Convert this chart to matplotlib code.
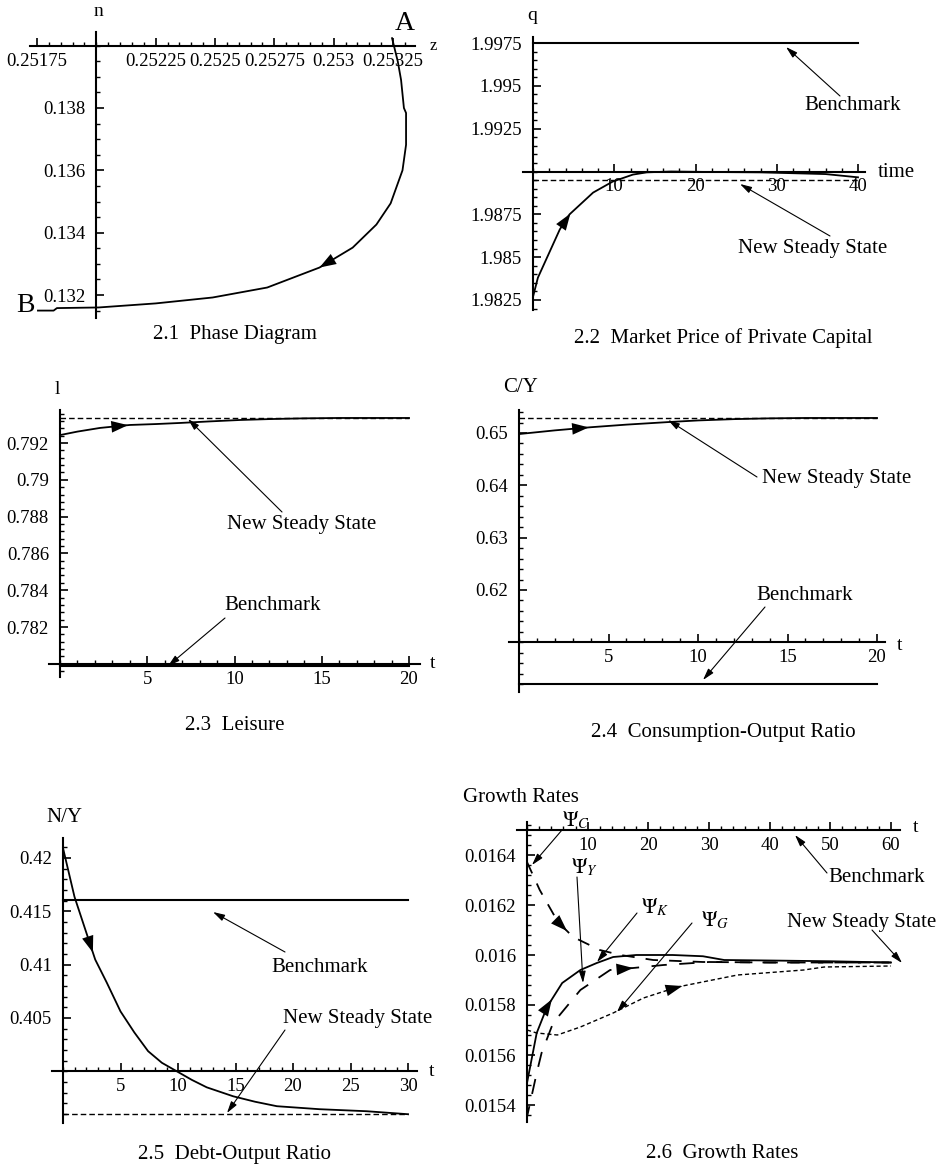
import numpy as np
import matplotlib
matplotlib.use("Agg")
import matplotlib.pyplot as plt
from matplotlib.ticker import FixedLocator, FixedFormatter, MultipleLocator

plt.rcParams['font.family'] = ['Liberation Serif', 'DejaVu Serif']
plt.rcParams['mathtext.fontset'] = 'stix'
plt.rcParams['font.size'] = 13
plt.rcParams['lines.scale_dashes'] = False

# ---------------- data ----------------
# 2.1 phase diagram (path from A to B)
phase_z = [0.253246, 0.253270, 0.253284, 0.253296, 0.253305, 0.253305, 0.25329, 0.25324,
           0.25318, 0.25308, 0.25294, 0.25272, 0.25249, 0.25225, 0.25201, 0.251834,
           0.25182, 0.251754]
phase_n = [0.14024, 0.13950, 0.13890, 0.13800, 0.13784, 0.13682, 0.13600, 0.13494,
           0.13426, 0.13352, 0.13288, 0.13224, 0.13192, 0.13173, 0.13160, 0.13158,
           0.13150, 0.13150]
phase_xticks = [0.25175, 0.25225, 0.2525, 0.25275, 0.253, 0.25325]
phase_xlabels = ["0.25175", "0.25225", "0.2525", "0.25275", "0.253", "0.25325"]
phase_yticks = [0.132, 0.134, 0.136, 0.138]
phase_ylabels = ["0.132", "0.134", "0.136", "0.138"]

# 2.2 market price of private capital
q_t = [0, 0.6, 3.3, 4.5, 7.4, 9.8, 12.3, 14, 17, 22, 28, 32, 36, 40]
q_val = [1.98268, 1.9838, 1.98662, 1.9875, 1.98877, 1.98941, 1.98982, 1.98995, 1.99000,
         1.98997, 1.98995, 1.98990, 1.98985, 1.98966]
q_bench = 1.9975
q_new = 1.98953
q_xticks = [10, 20, 30, 40]
q_xlabels = ["10", "20", "30", "40"]
q_yticks = [1.9825, 1.985, 1.9875, 1.9925, 1.995, 1.9975]
q_ylabels = ["1.9825", "1.985", "1.9875", "1.9925", "1.995", "1.9975"]

# 2.3 leisure
l_t = [0, 1, 2.3, 4, 5.5, 6.9, 8.5, 10.3, 12, 14, 16, 18, 20]
l_val = [0.79243, 0.79262, 0.79282, 0.79298, 0.79303, 0.79309, 0.79317, 0.79325,
         0.79330, 0.79334, 0.79336, 0.79336, 0.79336]
l_bench = 0.77986
l_new = 0.79336
l_xticks = [5, 10, 15, 20]
l_xlabels = ["5", "10", "15", "20"]
l_yticks = [0.782, 0.784, 0.786, 0.788, 0.79, 0.792]
l_ylabels = ["0.782", "0.784", "0.786", "0.788", "0.79", "0.792"]

# 2.4 consumption-output ratio
cy_t = [0, 2, 4, 6, 8.4, 10, 12, 14, 16, 18, 20]
cy_val = [0.6498, 0.6505, 0.6511, 0.6516, 0.6521, 0.6524, 0.65265, 0.6528, 0.65287,
          0.65287, 0.65287]
cy_bench = 0.6020
cy_new = 0.65287
cy_xticks = [5, 10, 15, 20]
cy_xlabels = ["5", "10", "15", "20"]
cy_yticks = [0.62, 0.63, 0.64, 0.65]
cy_ylabels = ["0.62", "0.63", "0.64", "0.65"]

# 2.5 debt-output ratio
ny_t = [0, 1, 2.8, 3.8, 5, 6.2, 7.4, 8.6, 9.9, 11.2, 12.5, 14.8, 16.7, 18.6, 22.3,
        26.4, 30]
ny_val = [0.42093, 0.41636, 0.41048, 0.40833, 0.40562, 0.40365, 0.40189, 0.40080,
          0.40000, 0.39920, 0.39850, 0.39766, 0.39715, 0.39673, 0.39645, 0.39626, 0.39598]
ny_bench = 0.41607
ny_new = 0.39598
ny_xticks = [5, 10, 15, 20, 25, 30]
ny_xlabels = ["5", "10", "15", "20", "25", "30"]
ny_yticks = [0.405, 0.41, 0.415, 0.42]
ny_ylabels = ["0.405", "0.41", "0.415", "0.42"]

# 2.6 growth rates
psiC_t = [0, 2.1, 5.1, 7.6, 12, 15.4, 20.8, 29, 40, 50, 60]
psiC = [0.016372, 0.01626, 0.016132, 0.016072, 0.01602, 0.016, 0.01598, 0.015972,
        0.01597, 0.01597, 0.01597]
psiK_t = [0, 1.6, 3.3, 5.8, 8.8, 11.5, 14.2, 18, 24, 29, 32.5, 40, 50, 60]
psiK = [0.015488, 0.015688, 0.015792, 0.015888, 0.01594, 0.015968, 0.015992, 0.016,
        0.016, 0.015995, 0.01598, 0.015978, 0.015975, 0.01597]
psiY_t = [0, 1.6, 2.4, 4.3, 8.8, 13.7, 17.5, 22.5, 30, 40, 50, 60]
psiY = [0.015352, 0.015528, 0.015608, 0.015728, 0.01586, 0.01594, 0.015948, 0.01596,
        0.015972, 0.01597, 0.01597, 0.01597]
psiG_t = [0, 1.6, 5, 8.8, 14.2, 19.2, 24.8, 34.7, 45.6, 49, 60]
psiG = [0.0157, 0.015688, 0.01568, 0.015712, 0.015768, 0.015828, 0.015872, 0.01592,
        0.01594, 0.015952, 0.015956]
g_bench = 0.0165
g_xticks = [10, 20, 30, 40, 50, 60]
g_xlabels = ["10", "20", "30", "40", "50", "60"]
g_yticks = [0.0154, 0.0156, 0.0158, 0.016, 0.0162, 0.0164]
g_ylabels = ["0.0154", "0.0156", "0.0158", "0.016", "0.0162", "0.0164"]

# ---------------- layout helpers ----------------
W, H = 943, 1167
fig = plt.figure(figsize=(W / 100, H / 100), dpi=100)

AX_LW = 1.5
CURVE_LW = 1.3
TXT = 15


def calib(p1, v1, p2, v2, pa, pb):
    k = (v2 - v1) / (p2 - p1)
    return (v1 + (pa - p1) * k, v1 + (pb - p1) * k)


def panel(box, xcal, ycal, origin, xt, xl, yt, yl, xminor, yminor):
    l, r, t, b = box
    ax = fig.add_axes([l / W, 1 - b / H, (r - l) / W, (b - t) / H])
    ax.set_xlim(*calib(*xcal, l, r))
    ax.set_ylim(*calib(*ycal, b, t))
    for s in ("top", "right"):
        ax.spines[s].set_visible(False)
    ax.spines["left"].set_position(("data", origin[0]))
    ax.spines["bottom"].set_position(("data", origin[1]))
    for s in ("left", "bottom"):
        ax.spines[s].set_linewidth(AX_LW)
    ax.patch.set_visible(False)
    ax.xaxis.set_major_locator(FixedLocator(xt))
    ax.xaxis.set_major_formatter(FixedFormatter(xl))
    ax.yaxis.set_major_locator(FixedLocator(yt))
    ax.yaxis.set_major_formatter(FixedFormatter(yl))
    ax.xaxis.set_minor_locator(MultipleLocator(xminor))
    ax.yaxis.set_minor_locator(MultipleLocator(yminor))
    ax.tick_params(which="major", direction="in", length=6, width=1.2, labelsize=13.5)
    ax.tick_params(which="minor", direction="in", length=3, width=1.0)
    ax.tick_params(axis="x", which="major", pad=5)
    ax.tick_params(axis="y", which="major", pad=8)
    return ax


def ftext(x, y, s, size=TXT, **kw):
    fig.text(x / W, 1 - y / H, s, ha=kw.pop("ha", "center"), va=kw.pop("va", "center"),
             fontsize=size, **kw)


def farrow(ax, x1, y1, x2, y2):
    ax.annotate("", xy=(x2 / W, 1 - y2 / H), xytext=(x1 / W, 1 - y1 / H),
                xycoords="figure fraction", textcoords="figure fraction",
                annotation_clip=False,
                arrowprops=dict(arrowstyle="-|>,head_length=0.7,head_width=0.2",
                                mutation_scale=10, lw=0.8, color="black",
                                shrinkA=0, shrinkB=0))


def curve_arrow(ax, tip, back):
    ax.annotate("", xy=tip, xytext=back, annotation_clip=False,
                arrowprops=dict(arrowstyle="-|>,head_length=0.8,head_width=0.28",
                                mutation_scale=15, lw=0, color="black",
                                shrinkA=0, shrinkB=0))


def arrow_at(ax, xs, ys, t_tip, dt):
    tip = (t_tip, np.interp(t_tip, xs, ys))
    back = (t_tip - dt, np.interp(t_tip - dt, xs, ys))
    curve_arrow(ax, tip, back)


DASH_NEW = (0, (4, 2.2))

# ---------------- 2.1 ----------------
ax1 = panel((30, 415, 32, 318), (37, 0.25175, 393, 0.25325), (108, 0.138, 295, 0.132),
            (0.252, 0.140), phase_xticks, phase_xlabels, phase_yticks, phase_ylabels,
            0.00005, 0.0005)
ax1.plot(phase_z, phase_n, color="black", lw=CURVE_LW, clip_on=False)
curve_arrow(ax1, (phase_z[10], phase_n[10]), (phase_z[9], phase_n[9]))
ftext(98, 12, "n", size=14)
ftext(433, 46, "z", size=12)
ftext(405, 23, "A", size=20)
ftext(25, 305, "B", size=20)
ftext(235, 335, "2.1  Phase Diagram")

# ---------------- 2.2 ----------------
ax2 = panel((523, 865, 37, 310), (533, 0, 858, 40), (43, 1.9975, 300, 1.9825),
            (0, 1.99), q_xticks, q_xlabels, q_yticks, q_ylabels, 2, 0.0005)
ax2.plot([0, 40], [q_bench, q_bench], color="black", lw=AX_LW)
ax2.plot([0, 40], [q_new, q_new], color="black", lw=1.0, linestyle=DASH_NEW)
ax2.plot(q_t, q_val, color="black", lw=CURVE_LW)
arrow_at(ax2, q_t, q_val, 4.6, 0.8)
ftext(532, 15, "q", size=14)
ftext(896, 172, "time")
ftext(853, 105, "Benchmark")
farrow(ax2, 840, 96, 786, 47)
ftext(813, 248, "New Steady State")
farrow(ax2, 830, 236, 740, 184)
ftext(723, 338, "2.2  Market Price of Private Capital")

# ---------------- 2.3 ----------------
ax3 = panel((49, 420, 410, 677), (60, 0, 409, 20), (443, 0.792, 627, 0.782),
            (0, 0.78), l_xticks, l_xlabels, l_yticks, l_ylabels, 1, 0.0004)
ax3.plot([0, 20], [l_bench, l_bench], color="black", lw=AX_LW)
ax3.plot([0, 20], [l_new, l_new], color="black", lw=1.0, linestyle=DASH_NEW)
ax3.plot(l_t, l_val, color="black", lw=CURVE_LW)
arrow_at(ax3, l_t, l_val, 3.9, 1.0)
ftext(57, 390, "l", size=14)
ftext(433, 664, "t", size=14)
ftext(302, 525, "New Steady State")
farrow(ax3, 282, 512, 188, 419)
ftext(273, 606, "Benchmark")
farrow(ax3, 225, 618, 168, 666)
ftext(235, 725, "2.3  Leisure")

# ---------------- 2.4 ----------------
ax4 = panel((509, 885, 410, 692), (519, 0, 877, 20), (433, 0.65, 590, 0.62),
            (0, 0.61), cy_xticks, cy_xlabels, cy_yticks, cy_ylabels, 1, 0.002)
ax4.plot([0, 20], [cy_bench, cy_bench], color="black", lw=AX_LW)
ax4.plot([0, 20], [cy_new, cy_new], color="black", lw=1.0, linestyle=DASH_NEW)
ax4.plot(cy_t, cy_val, color="black", lw=CURVE_LW)
arrow_at(ax4, cy_t, cy_val, 3.9, 1.0)
ftext(521, 388, "C/Y")
ftext(900, 645, "t", size=14)
ftext(837, 478, "New Steady State")
farrow(ax4, 757, 477, 668, 420)
ftext(805, 595, "Benchmark")
farrow(ax4, 765, 607, 703, 680)
ftext(723, 732, "2.4  Consumption-Output Ratio")

# ---------------- 2.5 ----------------
ax5 = panel((52, 417, 838, 1123), (63, 0, 408, 30), (858, 0.42, 1018, 0.405),
            (0, 0.40), ny_xticks, ny_xlabels, ny_yticks, ny_ylabels, 1, 0.001)
ax5.plot([0, 30], [ny_bench, ny_bench], color="black", lw=AX_LW)
ax5.plot([0, 30], [ny_new, ny_new], color="black", lw=1.0, linestyle=DASH_NEW)
ax5.plot(ny_t, ny_val, color="black", lw=CURVE_LW)
arrow_at(ax5, ny_t, ny_val, 2.6, 0.6)
ftext(64, 818, "N/Y")
ftext(432, 1071, "t", size=14)
ftext(320, 968, "Benchmark")
farrow(ax5, 285, 952, 213, 912)
ftext(358, 1018, "New Steady State")
farrow(ax5, 285, 1030, 227, 1113)
ftext(235, 1155, "2.5  Debt-Output Ratio")

# ---------------- 2.6 ----------------
ax6 = panel((517, 900, 822, 1122), (527, 0, 891, 60), (855, 0.0164, 1105, 0.0154),
            (0, g_bench), g_xticks, g_xlabels, g_yticks, g_ylabels, 2, 0.00004)
ax6.plot(psiC_t, psiC, color="black", lw=CURVE_LW, linestyle=(0, (9, 8)))
ax6.plot(psiY_t, psiY, color="black", lw=CURVE_LW, linestyle=(3, (11, 9)))
ax6.plot(psiG_t, psiG, color="black", lw=1.0, linestyle=(0, (3, 2)))
ax6.plot(psiK_t, psiK, color="black", lw=CURVE_LW)
arrow_at(ax6, psiC_t, psiC, 6.6, 1.0)
arrow_at(ax6, psiK_t, psiK, 4.1, 0.6)
arrow_at(ax6, psiY_t, psiY, 17.5, 2.0)
arrow_at(ax6, psiG_t, psiG, 25.6, 2.0)
ftext(521, 798, "Growth Rates")
ftext(916, 827, "t", size=14)
ftext(877, 877, "Benchmark")
farrow(ax6, 827, 873, 795, 835)
ftext(862, 922, "New Steady State")
farrow(ax6, 872, 930, 902, 963)
ftext(576, 820, r"$\Psi_{C}$")
farrow(ax6, 562, 830, 532, 865)
ftext(585, 867, r"$\Psi_{Y}$")
farrow(ax6, 577, 877, 583, 983)
ftext(655, 907, r"$\Psi_{K}$")
farrow(ax6, 637, 913, 597, 962)
ftext(715, 920, r"$\Psi_{G}$")
farrow(ax6, 692, 923, 617, 1012)
ftext(722, 1153, "2.6  Growth Rates")

fig.savefig("out.png", dpi=100, facecolor="white")
